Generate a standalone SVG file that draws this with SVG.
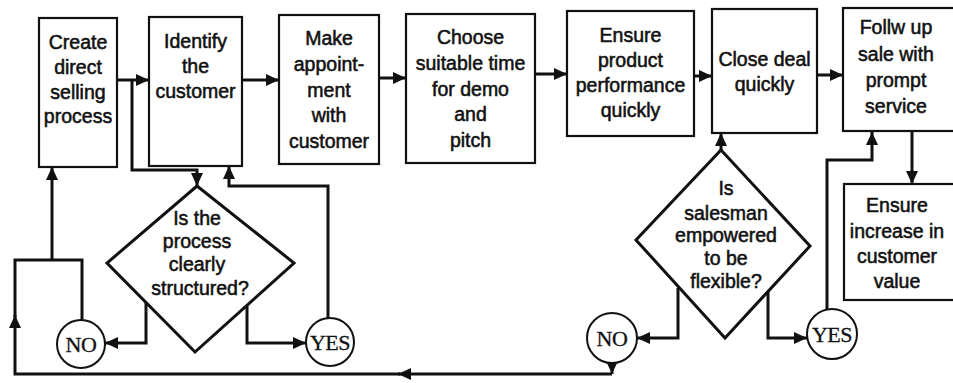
<svg xmlns="http://www.w3.org/2000/svg" width="953" height="383" viewBox="0 0 953 383">
  <style>
    .box { fill: #fff; stroke: #111; stroke-width: 2.2; }
    .dia { fill: #fff; stroke: #111; stroke-width: 3; }
    .circ { fill: #fff; stroke: #111; stroke-width: 2; }
    .t { font-family: "Liberation Sans", Arial, sans-serif; font-size: 19.5px; text-anchor: middle; fill: #111; stroke: #111; stroke-width: 0.55; }
    .c { font-family: "Liberation Serif", "Times New Roman", serif; font-size: 22px; text-anchor: middle; fill: #111; stroke: #111; stroke-width: 0.3; letter-spacing: -0.5px; }
    .ln { fill: none; stroke: #111; stroke-width: 3; }
  </style>
  <defs>
    <marker id="arr" markerUnits="userSpaceOnUse" markerWidth="14" markerHeight="12" refX="13" refY="6" orient="auto">
      <path d="M0,0 L13,6 L0,12 Z" fill="#111"/>
    </marker>
  </defs>

  <rect width="953" height="383" fill="#fff"/>

  <!-- connectors -->
  <g id="connectors">
    <path class="ln" d="M117,80 H149" marker-end="url(#arr)"/>
    <path class="ln" d="M242,80 H279" marker-end="url(#arr)"/>
    <path class="ln" d="M379,78 H406" marker-end="url(#arr)"/>
    <path class="ln" d="M535,74 H567" marker-end="url(#arr)"/>
    <path class="ln" d="M694,76 H712" marker-end="url(#arr)"/>
    <path class="ln" d="M817,75 H843" marker-end="url(#arr)"/>
    <!-- branch from the first link down to the first decision -->
    <path class="ln" d="M132,80 V170 H197 V186" marker-end="url(#arr)"/>
    <!-- YES of first decision back to "Identify the customer" -->
    <path class="ln" d="M328,318 V186 H229 V166" marker-end="url(#arr)"/>
    <!-- first decision outputs -->
    <path class="ln" d="M146,302 V343 H105" marker-end="url(#arr)"/>
    <path class="ln" d="M247,305 V343 H306" marker-end="url(#arr)"/>
    <!-- NO loop back to the start -->
    <path class="ln" d="M82,320 V260 H52"/>
    <path class="ln" d="M52,260 V167" marker-end="url(#arr)"/>
    <path class="ln" d="M612,363 V374" marker-end="url(#arr)"/>
    <path class="ln" d="M612,374 H398" marker-end="url(#arr)"/>
    <path class="ln" d="M400,374 H15 V315" marker-end="url(#arr)"/>
    <path class="ln" d="M15,317 V260 H52"/>
    <!-- second decision -->
    <path class="ln" d="M721,150 V133" marker-end="url(#arr)"/>
    <path class="ln" d="M678,288 V338 H637" marker-end="url(#arr)"/>
    <path class="ln" d="M768,291 V338 H807" marker-end="url(#arr)"/>
    <path class="ln" d="M827,309 V160 H872 V132" marker-end="url(#arr)"/>
    <path class="ln" d="M912,131 V184" marker-end="url(#arr)"/>
  </g>

  <g id="create">
    <rect class="box" x="39" y="18" width="78" height="149"/>
    <text class="t" x="78" y="49">Create</text>
    <text class="t" x="78" y="74">direct</text>
    <text class="t" x="78" y="99">selling</text>
    <text class="t" x="78" y="123">process</text>
  </g>
  <g id="identify">
    <rect class="box" x="149" y="17" width="93" height="149"/>
    <text class="t" x="195.5" y="48">Identify</text>
    <text class="t" x="195.5" y="73">the</text>
    <text class="t" x="195.5" y="98">customer</text>
  </g>
  <g id="appointment">
    <rect class="box" x="279" y="15" width="100" height="149"/>
    <text class="t" x="329" y="45">Make</text>
    <text class="t" x="329" y="71">appoint-</text>
    <text class="t" x="329" y="97">ment</text>
    <text class="t" x="329" y="122">with</text>
    <text class="t" x="329" y="148">customer</text>
  </g>
  <g id="choose">
    <rect class="box" x="406" y="14" width="129" height="149"/>
    <text class="t" x="470.5" y="44">Choose</text>
    <text class="t" x="470.5" y="70">suitable time</text>
    <text class="t" x="470.5" y="96">for demo</text>
    <text class="t" x="470.5" y="121">and</text>
    <text class="t" x="470.5" y="147">pitch</text>
  </g>
  <g id="ensure-performance">
    <rect class="box" x="567" y="11" width="127" height="125"/>
    <text class="t" x="630.5" y="42">Ensure</text>
    <text class="t" x="630.5" y="67">product</text>
    <text class="t" x="630.5" y="92">performance</text>
    <text class="t" x="630.5" y="117">quickly</text>
  </g>
  <g id="close-deal">
    <rect class="box" x="712" y="9" width="105" height="124"/>
    <text class="t" x="764.5" y="66">Close deal</text>
    <text class="t" x="764.5" y="91">quickly</text>
  </g>
  <g id="follow-up">
    <rect class="box" x="843" y="8" width="120" height="123"/>
    <text class="t" x="896" y="34">Follw up</text>
    <text class="t" x="896" y="61">sale with</text>
    <text class="t" x="896" y="87">prompt</text>
    <text class="t" x="896" y="113">service</text>
  </g>
  <g id="customer-value">
    <rect class="box" x="844" y="184" width="120" height="116"/>
    <text class="t" x="897" y="212">Ensure</text>
    <text class="t" x="897" y="238">increase in</text>
    <text class="t" x="897" y="263">customer</text>
    <text class="t" x="897" y="288">value</text>
  </g>

  <g id="decision-structured">
    <polygon class="dia" points="197,186 294,263 195,352 107,263"/>
    <text class="t" x="197" y="225">Is the</text>
    <text class="t" x="197" y="248">process</text>
    <text class="t" x="197" y="271">clearly</text>
    <text class="t" x="200" y="295">structured?</text>
  </g>
  <g id="decision-empowered">
    <polygon class="dia" points="721,150 810,246 725,338 636,240"/>
    <text class="t" x="726" y="195">Is</text>
    <text class="t" x="726" y="220">salesman</text>
    <text class="t" x="726" y="242">empowered</text>
    <text class="t" x="726" y="265">to be</text>
    <text class="t" x="726" y="288">flexible?</text>
  </g>

  <g id="no-1">
    <circle class="circ" cx="81" cy="344" r="24"/>
    <text class="c" x="81" y="352">NO</text>
  </g>
  <g id="yes-1">
    <circle class="circ" cx="330" cy="342" r="24"/>
    <text class="c" x="330" y="350">YES</text>
  </g>
  <g id="no-2">
    <circle class="circ" cx="612" cy="338" r="25"/>
    <text class="c" x="612" y="346">NO</text>
  </g>
  <g id="yes-2">
    <circle class="circ" cx="832" cy="334" r="25"/>
    <text class="c" x="832" y="342">YES</text>
  </g>
</svg>
